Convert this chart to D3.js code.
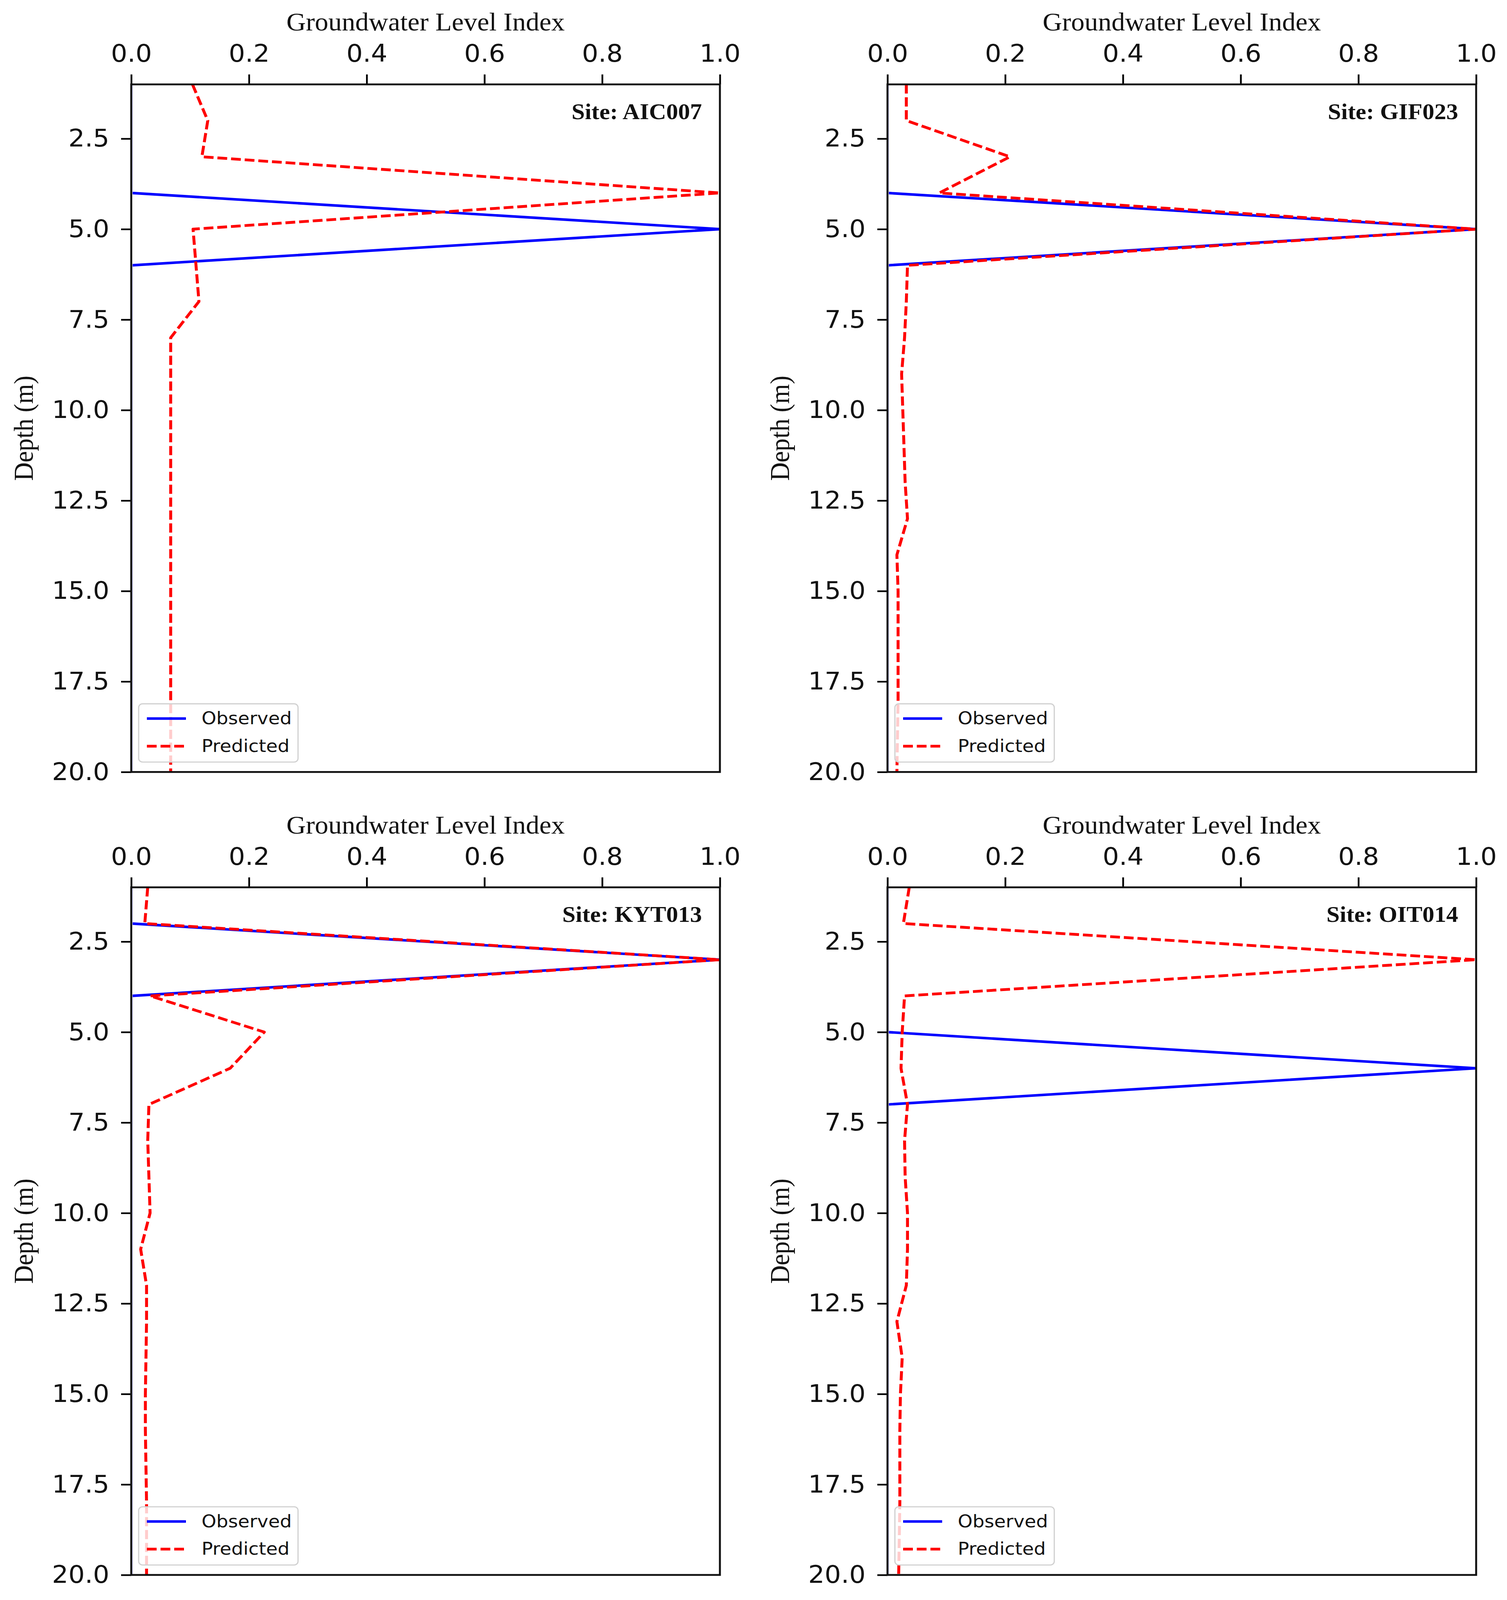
<!DOCTYPE html>
<html>
<head>
<meta charset="utf-8">
<script src="https://cdn.jsdelivr.net/npm/d3@7"></script>
<style>
  html, body { margin: 0; padding: 0; background: #fff; overflow: hidden; }
  #chart-area svg { display: block; width: 100vw; height: 100vh; }
</style>
</head>
<body>
<div id="chart-area"></div>
<script>
// depth of each sample (m)
const depths = [1, 2, 3, 4, 5, 6, 7, 8, 9, 10, 11, 12, 13, 14, 15, 16, 17, 18, 19, 20];
const sites = ["AIC007", "GIF023", "KYT013", "OIT014"];
const xTicks = [0, 0.2, 0.4, 0.6, 0.8, 1.0];
const yTicks = [2.5, 5.0, 7.5, 10.0, 12.5, 15.0, 17.5, 20.0];
const seriesNames = ["Observed", "Predicted"];

const observedAIC007 = [0, 0, 0, 0, 1, 0, 0, 0, 0, 0, 0, 0, 0, 0, 0, 0, 0, 0, 0, 0];
const predictedAIC007 = [0.104, 0.130, 0.120, 1.000, 0.105, 0.110, 0.115, 0.067, 0.067, 0.067,
                         0.067, 0.067, 0.067, 0.067, 0.067, 0.067, 0.067, 0.067, 0.067, 0.067];
const observedGIF023 = [0, 0, 0, 0, 1, 0, 0, 0, 0, 0, 0, 0, 0, 0, 0, 0, 0, 0, 0, 0];
const predictedGIF023 = [0.032, 0.032, 0.208, 0.088, 1.000, 0.034, 0.032, 0.029, 0.024, 0.026,
                         0.028, 0.030, 0.034, 0.016, 0.018, 0.018, 0.018, 0.018, 0.017, 0.016];
const observedKYT013 = [0, 0, 1, 0, 0, 0, 0, 0, 0, 0, 0, 0, 0, 0, 0, 0, 0, 0, 0, 0];
const predictedKYT013 = [0.028, 0.023, 1.000, 0.032, 0.226, 0.168, 0.030, 0.028, 0.030, 0.032,
                         0.016, 0.026, 0.026, 0.025, 0.024, 0.024, 0.025, 0.026, 0.026, 0.026];
const observedOIT014 = [0, 0, 0, 0, 0, 1, 0, 0, 0, 0, 0, 0, 0, 0, 0, 0, 0, 0, 0, 0];
const predictedOIT014 = [0.037, 0.027, 1.000, 0.029, 0.025, 0.023, 0.034, 0.029, 0.030, 0.034,
                         0.034, 0.032, 0.016, 0.025, 0.022, 0.021, 0.021, 0.021, 0.020, 0.019];

const observed = [observedAIC007, observedGIF023, observedKYT013, observedOIT014];
const predicted = [predictedAIC007, predictedGIF023, predictedKYT013, predictedOIT014];

const svgWidth = 3858, svgHeight = 4342;
const plotWidth = 1507, plotHeight = 1866;
const origins = [[336, 229], [2272, 229], [336, 2408], [2272, 2408]];

const sansFont = "DejaVu Sans";
const serifFont = "Liberation Serif";
const blue = "#0000ff", red = "#ff0000";
const dash = "25,10";

// the window may be shorter than the figure, so the drawing is fitted to it
const canvas = d3.select("#chart-area")
  .append("svg")
    .attr("viewBox", `0 0 ${svgWidth} ${svgHeight}`)
    .attr("preserveAspectRatio", "none");

canvas.append("rect")
  .attr("width", svgWidth)
  .attr("height", svgHeight)
  .attr("fill", "#fff");

const x = d3.scaleLinear().domain([0, 1]).range([0, plotWidth]);
const y = d3.scaleLinear().domain([1, 20]).range([0, plotHeight]);

const line = d3.line()
  .x(d => x(d.value))
  .y(d => y(d.depth));

sites.forEach((site, i) => {
  const [left, top] = origins[i];
  const chart = canvas.append("g")
    .attr("transform", `translate(${left},${top})`);

  // zero values sit under the left spine, so keep them hidden behind it
  chart.append("clipPath")
      .attr("id", `clip-${site}`)
    .append("rect")
      .attr("x", 3.5)
      .attr("width", plotWidth - 3.5)
      .attr("height", plotHeight);

  const lines = chart.append("g")
    .attr("clip-path", `url(#clip-${site})`);

  const obs = depths.map((d, j) => ({depth: d, value: observed[i][j]}));
  const pred = depths.map((d, j) => ({depth: d, value: predicted[i][j]}));

  lines.append("path")
    .datum(obs)
    .attr("fill", "none")
    .attr("stroke", blue)
    .attr("stroke-width", 7)
    .attr("stroke-linejoin", "round")
    .attr("d", line);

  lines.append("path")
    .datum(pred)
    .attr("fill", "none")
    .attr("stroke", red)
    .attr("stroke-width", 7.5)
    .attr("stroke-dasharray", dash)
    .attr("stroke-linejoin", "round")
    .attr("d", line);

  // axes
  const xAxis = chart.append("g")
    .call(d3.axisTop(x)
      .tickValues(xTicks)
      .tickFormat(d3.format(".1f"))
      .tickSizeInner(27)
      .tickSizeOuter(0)
      .tickPadding(34));
  const yAxis = chart.append("g")
    .call(d3.axisLeft(y)
      .tickValues(yTicks)
      .tickFormat(d3.format(".1f"))
      .tickSizeInner(26)
      .tickSizeOuter(0)
      .tickPadding(30));
  [xAxis, yAxis].forEach(ax => {
    ax.select(".domain").remove();
    ax.selectAll("line")
      .attr("stroke", "#000")
      .attr("stroke-width", 4.5);
    ax.selectAll("text")
      .attr("fill", "#111")
      .attr("font-family", sansFont)
      .attr("font-size", 66);
  });

  // frame
  chart.append("rect")
    .attr("width", plotWidth)
    .attr("height", plotHeight)
    .attr("fill", "none")
    .attr("stroke", "#111")
    .attr("stroke-width", 5);

  // axis titles
  chart.append("text")
    .text("Groundwater Level Index")
    .attr("x", plotWidth / 2)
    .attr("y", -146)
    .attr("text-anchor", "middle")
    .attr("font-family", serifFont)
    .attr("font-size", 69)
    .attr("fill", "#111");

  chart.append("text")
    .text("Depth (m)")
    .attr("transform", `translate(-252,${plotHeight / 2}) rotate(-90)`)
    .attr("text-anchor", "middle")
    .attr("font-family", serifFont)
    .attr("font-size", 69)
    .attr("fill", "#111");

  chart.append("text")
    .text(`Site: ${site}`)
    .attr("x", plotWidth - 46)
    .attr("y", 94)
    .attr("text-anchor", "end")
    .attr("font-family", serifFont)
    .attr("font-weight", 700)
    .attr("font-size", 61)
    .attr("fill", "#111");

  // legend
  const legend = chart.append("g")
    .attr("transform", `translate(19,${plotHeight - 185})`);
  legend.append("rect")
    .attr("width", 408)
    .attr("height", 158)
    .attr("rx", 10)
    .attr("fill", "#fff")
    .attr("fill-opacity", 0.8)
    .attr("stroke", "#d0d0d0")
    .attr("stroke-width", 3);
  seriesNames.forEach((name, k) => {
    const ly = 40 + k * 75;
    legend.append("line")
      .attr("x1", 21).attr("x2", 121)
      .attr("y1", ly).attr("y2", ly)
      .attr("stroke", k === 0 ? blue : red)
      .attr("stroke-width", k === 0 ? 7 : 7.5)
      .attr("stroke-dasharray", k === 0 ? null : dash);
    legend.append("text")
      .text(name)
      .attr("x", 161)
      .attr("y", ly)
      .attr("dy", "0.32em")
      .attr("font-family", sansFont)
      .attr("font-size", 48)
      .attr("fill", "#111");
  });
});
</script>
</body>
</html>
